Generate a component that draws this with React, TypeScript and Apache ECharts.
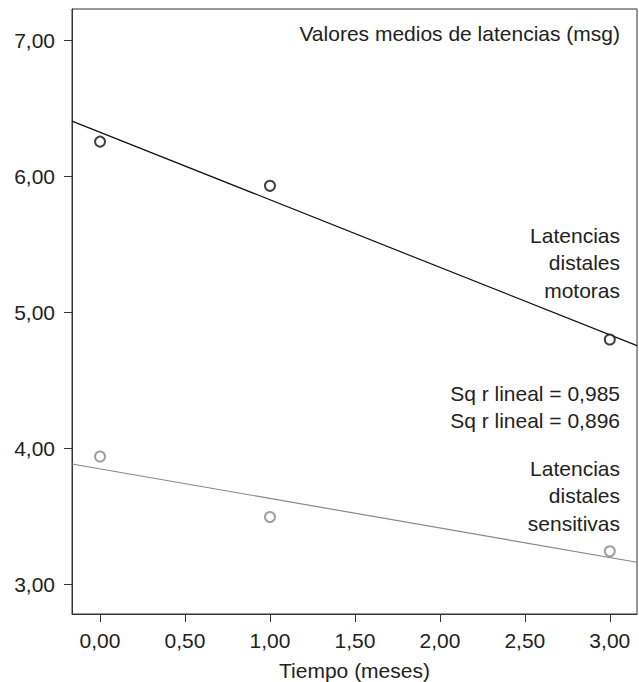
import React, { useEffect, useRef } from "react";
import * as echarts from "echarts";

// ---- Data ----
const months = [0, 1, 3];
const motorLatency = [6.255, 5.93, 4.8];
const sensoryLatency = [3.94, 3.495, 3.243];
const xTickValues = [0, 0.5, 1, 1.5, 2, 2.5, 3];
const yTickValues = [3, 4, 5, 6, 7];
const xRange = [-0.165, 3.16];
const yRange = [2.782, 7.23];
const chartTitle = "Valores medios de latencias (msg)";
const xAxisTitle = "Tiempo (meses)";
const motorLabel = ["Latencias", "distales", "motoras"];
const sensoryLabel = ["Latencias", "distales", "sensitivas"];
const rSquaredLabels = ["Sq r lineal = 0,985", "Sq r lineal = 0,896"];

function fit(xs: number[], ys: number[]) {
  const n = xs.length;
  const mx = xs.reduce((a, b) => a + b, 0) / n;
  const my = ys.reduce((a, b) => a + b, 0) / n;
  let sxy = 0;
  let sxx = 0;
  for (let i = 0; i < n; i++) {
    sxy += (xs[i] - mx) * (ys[i] - my);
    sxx += (xs[i] - mx) * (xs[i] - mx);
  }
  const slope = sxy / sxx;
  const intercept = my - slope * mx;
  return xRange.map((x) => [x, intercept + slope * x]);
}

const FONT = '"Liberation Sans", Arial, Helvetica, sans-serif';
const TXT = "#222";
const fmt = (v: number) => v.toFixed(2).replace(".", ",");

export default function App() {
  const ref = useRef<HTMLDivElement>(null);
  useEffect(() => {
    if (!ref.current) return;
    const chart = echarts.init(ref.current, null, { renderer: "svg" });
    const textEl = (text: string, x: number, y: number) => ({
      type: "text",
      x,
      y,
      style: {
        text,
        fill: TXT,
        fontSize: 21,
        fontFamily: FONT,
        align: "right",
        verticalAlign: "middle",
      },
      z: 10,
    });
    const graphics: any[] = [textEl(chartTitle, 620, 33)];
    motorLabel.forEach((t, i) => graphics.push(textEl(t, 620, 235 + i * 27.5)));
    rSquaredLabels.forEach((t, i) => graphics.push(textEl(t, 620, 393 + i * 27)));
    sensoryLabel.forEach((t, i) => graphics.push(textEl(t, 620, 468 + i * 27.5)));

    chart.setOption({
      animation: false,
      backgroundColor: "#fff",
      textStyle: { fontFamily: FONT },
      grid: {
        left: 72,
        top: 9,
        right: 2,
        bottom: 68,
        show: true,
        borderColor: "#333",
        borderWidth: 1,
        backgroundColor: "transparent",
        containLabel: false,
        outerBoundsMode: "none",
      },
      xAxis: {
        type: "value",
        min: xRange[0],
        max: xRange[1],
        name: xAxisTitle,
        nameLocation: "middle",
        nameGap: 46,
        nameTextStyle: { fontSize: 21, color: TXT, fontFamily: FONT },
        axisLine: { show: true, onZero: false, lineStyle: { color: "#333", width: 1 } },
        axisTick: {
          show: true,
          length: 8,
          lineStyle: { color: "#333" },
          customValues: xTickValues,
        },
        axisLabel: {
          color: TXT,
          fontSize: 21,
          fontFamily: FONT,
          margin: 16,
          customValues: xTickValues,
          formatter: (v: number) => fmt(v),
        },
        splitLine: { show: false },
      },
      yAxis: {
        type: "value",
        min: yRange[0],
        max: yRange[1],
        axisLine: { show: true, onZero: false, lineStyle: { color: "#333", width: 1 } },
        axisTick: {
          show: true,
          length: 8,
          lineStyle: { color: "#333" },
          customValues: yTickValues,
        },
        axisLabel: {
          color: TXT,
          fontSize: 21,
          fontFamily: FONT,
          margin: 17,
          customValues: yTickValues,
          formatter: (v: number) => fmt(v),
        },
        splitLine: { show: false },
      },
      series: [
        {
          type: "line",
          data: fit(months, motorLatency),
          symbol: "none",
          lineStyle: { color: "#111", width: 1.2 },
          z: 2,
          silent: true,
        },
        {
          type: "line",
          data: fit(months, sensoryLatency),
          symbol: "none",
          lineStyle: { color: "#888", width: 1.2 },
          z: 2,
          silent: true,
        },
        {
          type: "scatter",
          data: months.map((m, i) => [m, motorLatency[i]]),
          symbol: "emptyCircle",
          symbolSize: 10,
          itemStyle: { color: "#111", borderWidth: 1.3 },
          z: 3,
        },
        {
          type: "scatter",
          data: months.map((m, i) => [m, sensoryLatency[i]]),
          symbol: "emptyCircle",
          symbolSize: 10,
          itemStyle: { color: "#888", borderWidth: 1.3 },
          z: 3,
        },
      ],
      graphic: graphics,
    });
    return () => chart.dispose();
  }, []);
  return (
    <div
      ref={ref}
      style={{ position: "absolute", left: 0, top: 0, width: 639, height: 682 }}
    />
  );
}
